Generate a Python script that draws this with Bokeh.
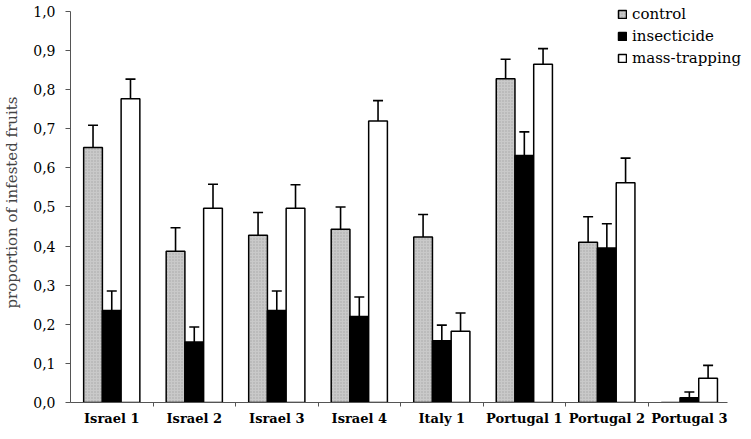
import numpy as np
from bokeh.plotting import figure
from bokeh.models import (ColumnDataSource, Range1d, FixedTicker, CustomJSTickFormatter,
                          Whisker, TeeHead, Legend, LegendItem)
from bokeh.embed import file_html
from bokeh.resources import INLINE

sites = ["Israel 1", "Israel 2", "Israel 3", "Israel 4", "Italy 1",
         "Portugal 1", "Portugal 2", "Portugal 3"]
treatments = ["control", "insecticide", "mass-trapping"]

control = [0.652, 0.387, 0.428, 0.443, 0.423, 0.828, 0.410, 0.0]
control_err = [0.057, 0.060, 0.058, 0.057, 0.058, 0.050, 0.065, 0.0]
insecticide = [0.235, 0.155, 0.235, 0.220, 0.158, 0.632, 0.395, 0.012]
insecticide_err = [0.050, 0.038, 0.050, 0.050, 0.040, 0.060, 0.062, 0.015]
mass_trapping = [0.777, 0.497, 0.497, 0.720, 0.182, 0.865, 0.562, 0.062]
mass_trapping_err = [0.050, 0.061, 0.060, 0.052, 0.047, 0.040, 0.063, 0.033]

y_ticks = [0.0, 0.1, 0.2, 0.3, 0.4, 0.5, 0.6, 0.7, 0.8, 0.9, 1.0]

FONT = "DejaVu Serif"

p = figure(width=743, height=428, output_backend="svg", toolbar_location=None,
           x_range=Range1d(0, 8.144), y_range=Range1d(0, 1.023),
           min_border_left=62, min_border_right=1, min_border_top=2, min_border_bottom=20)
p.outline_line_color = None
p.xgrid.visible = False
p.ygrid.visible = False
p.background_fill_color = "white"

bar_w = 0.227
offsets = [-bar_w, 0.0, bar_w]
styles = [
    dict(fill_color="#c9c9c9", hatch_pattern="dot", hatch_color="#8a8a8a", hatch_scale=3, hatch_alpha=0.6),
    dict(fill_color="black"),
    dict(fill_color="white"),
]
series = [(control, control_err), (insecticide, insecticide_err), (mass_trapping, mass_trapping_err)]
centers = np.arange(len(sites)) + 0.5

legend_items = []
for (vals, errs), off, st, name in zip(series, offsets, styles, treatments):
    vals = np.array(vals)
    errs = np.array(errs)
    src = ColumnDataSource(dict(x=centers + off, top=vals, upper=vals + errs))
    r = p.vbar(x="x", top="top", width=bar_w, bottom=0, source=src,
               line_color="black", line_width=1.5, **st)
    mask = errs > 0
    wsrc = ColumnDataSource(dict(x=(centers + off)[mask], top=vals[mask], upper=(vals + errs)[mask]))
    w = Whisker(base="x", lower="top", upper="upper", source=wsrc,
                line_color="black", line_width=1.6,
                upper_head=TeeHead(size=10, line_color="black", line_width=1.6),
                lower_head=None)
    p.add_layout(w)
    legend_items.append(LegendItem(label=name, renderers=[r]))

legend = Legend(items=legend_items, location=(547, 335), orientation="vertical",
                glyph_width=10, glyph_height=10, label_height=19, spacing=3,
                label_standoff=5, padding=0, margin=0,
                border_line_color=None, background_fill_alpha=0,
                label_text_font="'DejaVu Serif'", label_text_font_size="15px",
                label_text_font_style="normal", label_text_color="black")
p.add_layout(legend, "center")

# y axis
p.yaxis.ticker = FixedTicker(ticks=y_ticks)
p.yaxis.formatter = CustomJSTickFormatter(code="return tick.toFixed(1).replace('.', ',');")
p.yaxis.bounds = (0, 1.0)
p.yaxis.major_tick_out = 5
p.yaxis.major_tick_in = 0
p.yaxis.minor_tick_out = 0
p.yaxis.minor_tick_in = 0
p.yaxis.axis_line_color = "#555555"
p.yaxis.major_tick_line_color = "#555555"
p.yaxis.major_label_text_font = FONT
p.yaxis.major_label_text_font_size = "14px"
p.yaxis.major_label_text_color = "black"
p.yaxis.major_label_standoff = 10
p.yaxis.axis_label = "proportion of infested fruits"
p.yaxis.axis_label_text_font = FONT
p.yaxis.axis_label_text_font_size = "15px"
p.yaxis.axis_label_text_font_style = "normal"
p.yaxis.axis_label_standoff = 9

# x axis
p.xaxis.ticker = FixedTicker(ticks=list(centers), minor_ticks=list(range(1, len(sites))))
p.xaxis.formatter = CustomJSTickFormatter(args=dict(names=sites),
                                          code="return names[Math.floor(tick)];")
p.xaxis.bounds = (0, 7.96)
p.xaxis.major_tick_out = 0
p.xaxis.major_tick_in = 0
p.xaxis.minor_tick_out = 4
p.xaxis.minor_tick_in = 0
p.xaxis.axis_line_color = "#555555"
p.xaxis.minor_tick_line_color = "#555555"
p.xaxis.major_label_text_font = FONT
p.xaxis.major_label_text_font_size = "13px"
p.xaxis.major_label_text_font_style = "bold"
p.xaxis.major_label_text_color = "black"
p.xaxis.major_label_standoff = 4

open("out.html", "w").write(file_html(p, INLINE))
